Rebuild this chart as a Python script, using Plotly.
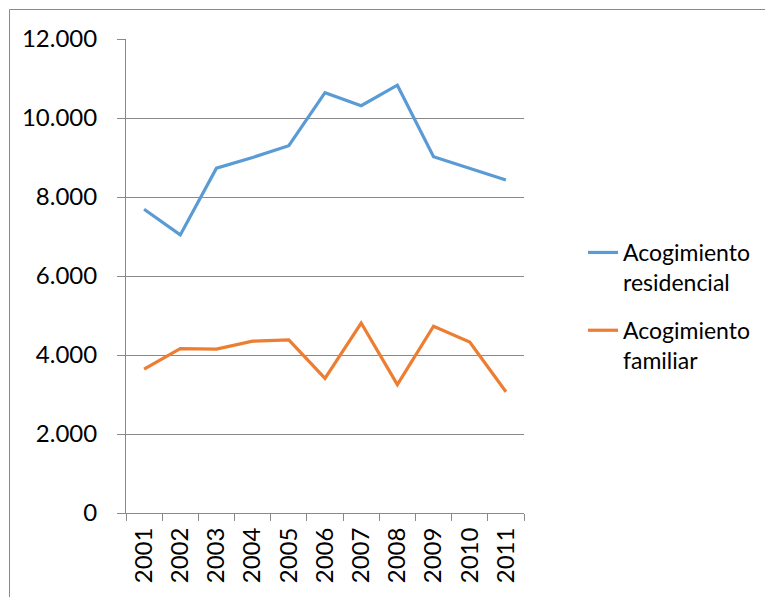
import plotly.graph_objects as go

years = ["2001", "2002", "2003", "2004", "2005", "2006", "2007", "2008", "2009", "2010", "2011"]
residencial = [7690, 7040, 8730, 9000, 9300, 10640, 10310, 10830, 9020, 8730, 8430]
familiar = [3640, 4160, 4150, 4350, 4380, 3410, 4810, 3250, 4730, 4330, 3070]
y_ticks = [0, 2000, 4000, 6000, 8000, 10000, 12000]

# page has an 8px body margin; figure is sized to fill the rest of the window
OFF = 8
W, H = 773 - OFF, 597 - OFF
ML, MR, MT, MB = 126 - OFF, 249, 39 - OFF, 84
pw, ph = W - ML - MR, H - MT - MB

FONT = "Lato"
GREY = "#898989"

fig = go.Figure()
fig.add_trace(go.Scatter(x=years, y=residencial, mode="lines", name="Acogimiento<br>residencial",
                         line=dict(color="#5B9BD5", width=3.2), legendgroup="a"))
fig.add_trace(go.Scatter(x=years, y=familiar, mode="lines", name="Acogimiento<br>familiar",
                         line=dict(color="#ED7D31", width=3.2), legendgroup="b"))

# outer chart frame
fx0 = (9.5 - OFF - ML) / pw
fy1 = (H - MB - (9.5 - OFF)) / ph
fig.add_shape(type="rect", xref="paper", yref="paper", x0=fx0, x1=3, y0=-3, y1=fy1,
              line=dict(color=GREY, width=1), fillcolor="rgba(0,0,0,0)", layer="below")

fig.update_layout(
    width=W, height=H,
    margin=dict(l=ML, r=MR, t=MT, b=MB, pad=0, autoexpand=False),
    paper_bgcolor="white", plot_bgcolor="white",
    font=dict(family=FONT, size=24, color="black"),
    separators=",.",
    showlegend=True,
    legend=dict(x=(575 - ML) / pw, y=(H - MB - 223) / ph, xanchor="left", yanchor="top",
                valign="top", traceorder="grouped", tracegroupgap=15,
                font=dict(family=FONT, size=23, color="black"), bgcolor="rgba(0,0,0,0)"),
    xaxis=dict(type="category", range=[-0.5, len(years) - 0.5], tickangle=-90, showgrid=False,
               showline=True, linecolor=GREY, automargin=False,
               linewidth=1, ticks="outside", ticklen=7, tickcolor=GREY, tickson="boundaries",
               ticklabelstandoff=4, zeroline=False),
    yaxis=dict(range=[0, 12000], tickvals=y_ticks, tickformat=",d", showgrid=True,
               gridcolor=GREY, gridwidth=1, showline=True, linecolor=GREY, linewidth=1,
               automargin=False,
               ticks="outside", ticklen=8, tickcolor=GREY, ticklabelstandoff=15,
               zeroline=False),
)

fig.write_html("out.html")
